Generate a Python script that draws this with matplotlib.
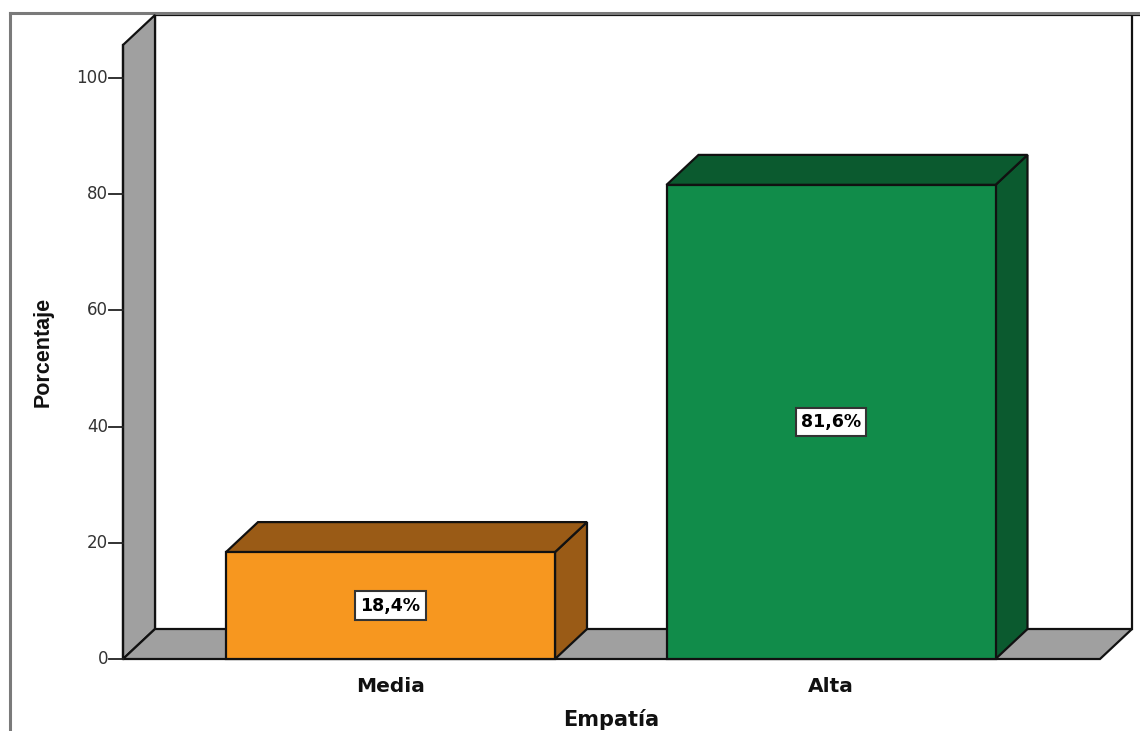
import matplotlib
matplotlib.use("Agg")
import matplotlib.pyplot as plt
from matplotlib.patches import Polygon
from matplotlib.lines import Line2D

# Data
categories = ["Media", "Alta"]
percentages = [18.4, 81.6]
value_labels = ["18,4%", "81,6%"]
y_ticks = [0, 20, 40, 60, 80, 100]
x_title = "Empatía"
y_title = "Porcentaje"

front_colors = ["#F7971F", "#118C4A"]
shade_colors = ["#9A5B16", "#0B5A2F"]
wall_gray = "#A0A0A0"

W, H, DPI = 1140, 731, 100
fig = plt.figure(figsize=(W / DPI, H / DPI), dpi=DPI)
ax = fig.add_axes([0, 0, 1, 1])

# scales: one category step and one percent step in pixels
px_cat = 440.5
px_pct = 5.81
x0_px, y0_px = 390.5, 659
ax.set_xlim((0 - x0_px) / px_cat, (W - x0_px) / px_cat)
ax.set_ylim((y0_px - H) / px_pct, (y0_px - 0) / px_pct)
ax.axis("off")

def cx(px):
    return (px - x0_px) / px_cat

def cy(py):
    return (y0_px - py) / px_pct

depth_x = 32 / px_cat
depth_y = 30 / px_pct
bar_w = 329 / px_cat
x_axis = cx(123)
x_floor_end = cx(1100)
y_top = cy(45)
edge = dict(edgecolor="#111111", linewidth=1.6, joinstyle="miter")

# outer frame
ax.add_line(Line2D([cx(10), cx(10)], [cy(H), cy(13)], color="#7a7a7a", lw=2.2))
ax.add_line(Line2D([cx(10), cx(W)], [cy(13), cy(13)], color="#7a7a7a", lw=2.2))

# back wall
ax.add_patch(Polygon([(x_axis + depth_x, depth_y), (x_axis + depth_x, y_top + depth_y),
                      (x_floor_end + depth_x + 0.05, y_top + depth_y),
                      (x_floor_end + depth_x + 0.05, depth_y)],
                     closed=False, facecolor="white", zorder=1, **edge))
ax.add_line(Line2D([x_floor_end + depth_x, x_floor_end + depth_x], [depth_y, y_top + depth_y],
                   color="#111111", lw=1.6, zorder=1))
# side wall
ax.add_patch(Polygon([(x_axis, 0), (x_axis, y_top), (x_axis + depth_x, y_top + depth_y),
                      (x_axis + depth_x, depth_y)], facecolor=wall_gray, zorder=2, **edge))
# floor
ax.add_patch(Polygon([(x_axis, 0), (x_axis + depth_x, depth_y), (x_floor_end + depth_x, depth_y),
                      (x_floor_end, 0)], facecolor=wall_gray, zorder=2, **edge))

# bars
xs = list(range(len(categories)))
ax.bar(xs, percentages, width=bar_w, color=front_colors, edgecolor="#111111",
       linewidth=1.6, zorder=4)
for x, v, sc in zip(xs, percentages, shade_colors):
    l, r = x - bar_w / 2, x + bar_w / 2
    ax.add_patch(Polygon([(r, 0), (r + depth_x, depth_y), (r + depth_x, v + depth_y), (r, v)],
                         facecolor=sc, zorder=3, **edge))
    ax.add_patch(Polygon([(l, v), (l + depth_x, v + depth_y), (r + depth_x, v + depth_y), (r, v)],
                         facecolor=sc, zorder=3, **edge))

# value labels
for x, v, lab in zip(xs, percentages, value_labels):
    ax.text(x, v / 2, lab, ha="center", va="center", fontsize=12.5, fontweight="bold",
            family="DejaVu Sans", zorder=6,
            bbox=dict(boxstyle="square,pad=0.3", facecolor="white", edgecolor="#333333", lw=1.5))

# y axis line, ticks and labels
ax.add_line(Line2D([x_axis, x_axis], [0, y_top], color="#111111", lw=1.6, zorder=5))
for t in y_ticks:
    ax.add_line(Line2D([cx(109), x_axis], [t, t], color="#222222", lw=1.3, zorder=5))
    ax.text(cx(108), t, str(t), ha="right", va="center", fontsize=12,
            family="DejaVu Sans", color="#333333")

# category labels
for x, c in zip(xs, categories):
    ax.text(x, cy(686), c, ha="center", va="center", fontsize=14.5, fontweight="bold",
            family="DejaVu Sans", color="#111111")

ax.text(cx(611), cy(719), x_title, ha="center", va="center", fontsize=15, fontweight="bold",
        family="DejaVu Sans", color="#111111")
ax.text(cx(43), cy(352), y_title, ha="center", va="center", rotation=90, fontsize=15.5,
        fontweight="bold", family="Liberation Sans", color="#111111")

fig.savefig("out.png", dpi=DPI)
